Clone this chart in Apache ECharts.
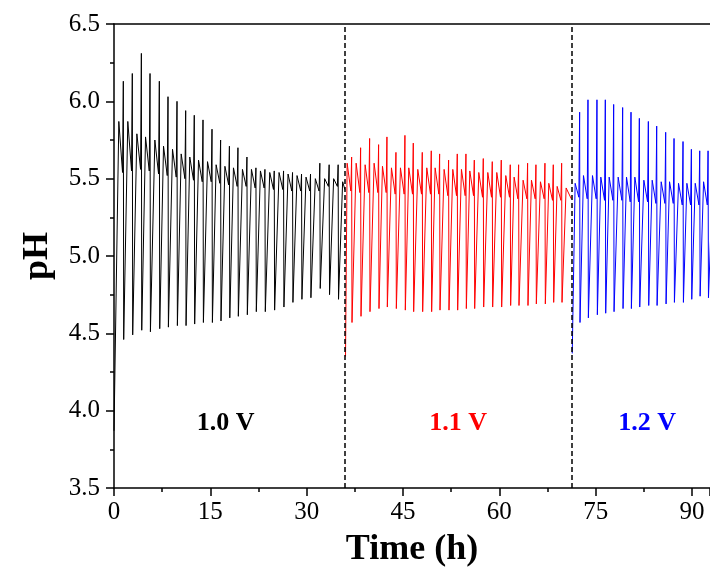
<!DOCTYPE html>
<html>
<head>
<meta charset="utf-8">
<script src="https://cdn.jsdelivr.net/npm/echarts@6/dist/echarts.min.js"></script>
<style>
  html, body { margin: 0; padding: 0; background: #fff; }
  #chart { width: 710px; height: 573px; }
</style>
</head>
<body>
<div id="chart"></div>
<script>
// pH oscillation record at three cell voltages.
// Each oscillation cycle: rise from the minimum to a hump, settle to a base,
// sharp spike, then fall back to the next minimum.

// ---- 1.0 V ----
const blkStart = [0, 3.87];
const blkSpikeT = [1.45, 2.85, 4.26, 5.61, 7.06, 8.41, 9.81, 11.16, 12.5, 13.86, 15.26, 16.6, 17.97, 19.3, 20.7, 22.1, 23.5, 24.95, 26.4, 27.8, 29.2, 30.6, 32.05, 33.5, 34.9];
const blkSpike = [6.13, 6.18, 6.31, 6.18, 6.13, 6.03, 6.00, 5.94, 5.91, 5.88, 5.82, 5.75, 5.71, 5.70, 5.64, 5.57, 5.56, 5.55, 5.55, 5.54, 5.53, 5.53, 5.60, 5.59, 5.59];
const blkHump = [5.87, 5.87, 5.79, 5.77, 5.75, 5.71, 5.69, 5.66, 5.64, 5.62, 5.61, 5.59, 5.58, 5.57, 5.56, 5.56, 5.55, 5.54, 5.54, 5.53, 5.52, 5.51, 5.50, 5.50, 5.50];
const blkBase = [5.54, 5.55, 5.56, 5.55, 5.53, 5.52, 5.51, 5.50, 5.49, 5.48, 5.48, 5.47, 5.46, 5.45, 5.45, 5.44, 5.44, 5.43, 5.43, 5.42, 5.42, 5.42, 5.42, 5.45, 5.45];
const blkMin = [4.46, 4.49, 4.52, 4.51, 4.53, 4.54, 4.55, 4.55, 4.56, 4.57, 4.57, 4.58, 4.60, 4.61, 4.62, 4.64, 4.64, 4.65, 4.67, 4.70, 4.72, 4.73, 4.79, 4.75, 4.72];
const blkEnd = [[35.6, 5.48], [35.95, 5.43]];

// ---- 1.1 V ----
const redStart = [36.05, 4.35];
const redSpikeT = [37.0, 38.4, 39.8, 41.2, 42.5, 43.9, 45.3, 46.6, 48.0, 49.4, 50.7, 52.1, 53.45, 54.8, 56.1, 57.5, 58.9, 60.3, 61.7, 63.0, 64.4, 65.7, 67.1, 68.4, 69.7];
const redSpike = [5.64, 5.70, 5.76, 5.72, 5.77, 5.67, 5.78, 5.73, 5.67, 5.68, 5.66, 5.62, 5.66, 5.66, 5.62, 5.63, 5.61, 5.62, 5.59, 5.59, 5.60, 5.59, 5.60, 5.59, 5.60];
const redHump = [5.60, 5.60, 5.59, 5.60, 5.58, 5.57, 5.57, 5.57, 5.56, 5.57, 5.57, 5.56, 5.56, 5.56, 5.55, 5.54, 5.54, 5.54, 5.52, 5.51, 5.49, 5.49, 5.48, 5.47, 5.45];
const redBase = [5.42, 5.41, 5.41, 5.41, 5.41, 5.40, 5.40, 5.40, 5.40, 5.40, 5.40, 5.39, 5.39, 5.39, 5.39, 5.38, 5.38, 5.38, 5.38, 5.37, 5.37, 5.37, 5.37, 5.36, 5.36];
const redMin = [4.57, 4.61, 4.64, 4.66, 4.67, 4.66, 4.65, 4.64, 4.64, 4.64, 4.65, 4.65, 4.65, 4.66, 4.66, 4.67, 4.67, 4.67, 4.68, 4.68, 4.68, 4.69, 4.69, 4.70, 4.70];
const redEnd = [[70.4, 5.44], [71.2, 5.37]];

// ---- 1.2 V ----
const bluStart = [71.35, 4.37];
const bluSpikeT = [72.5, 73.8, 75.2, 76.5, 77.8, 79.2, 80.5, 81.8, 83.2, 84.5, 85.9, 87.2, 88.6, 89.9, 91.2, 92.5];
const bluSpike = [5.93, 6.01, 6.01, 6.01, 5.98, 5.96, 5.93, 5.89, 5.87, 5.84, 5.80, 5.76, 5.74, 5.69, 5.68, 5.68];
const bluHump = [5.47, 5.52, 5.52, 5.51, 5.51, 5.51, 5.51, 5.51, 5.49, 5.49, 5.48, 5.48, 5.47, 5.47, 5.47, 5.48];
const bluBase = [5.38, 5.37, 5.37, 5.36, 5.36, 5.36, 5.35, 5.35, 5.35, 5.34, 5.34, 5.34, 5.33, 5.33, 5.33, 5.33];
const bluMin = [4.57, 4.60, 4.62, 4.63, 4.64, 4.66, 4.66, 4.67, 4.68, 4.68, 4.69, 4.70, 4.70, 4.72, 4.74, 4.73];
const bluEnd = [[93.2, 5.47], [93.8, 5.31]];

// Timing of the features inside a cycle, relative to the spike (h)
const humpLead = 0.7;
const baseLead = 0.12;
const minLag = 0.06;

// Voltage switch times (h) and segment labels
const switchTimes = [36, 71.3];
const voltLabels = ['1.0 V', '1.1 V', '1.2 V'];
const voltLabelT = [17.4, 53.6, 83.0];
const voltLabelPH = 3.92;

const xTicks = [0, 15, 30, 45, 60, 75, 90];
const xMax = 92.8;

function buildCycles(start, spikeT, hump, base, spike, min, end) {
  const pts = [start];
  for (let i = 0; i < spikeT.length; i++) {
    const t = spikeT[i];
    pts.push([t - humpLead, hump[i]]);
    pts.push([t - baseLead, base[i]]);
    pts.push([t, spike[i]]);
    pts.push([t + minLag, min[i]]);
  }
  return pts.concat(end);
}

const serif = 'Liberation Serif';
const colors = ['#000000', '#ff0000', '#0000ff'];

const chart = echarts.init(document.getElementById('chart'), null, { renderer: 'canvas' });

const lineSeries = (name, data, color) => ({
  name, type: 'line', data, showSymbol: false, symbol: 'none',
  lineStyle: { color, width: 1 }, animation: false, clip: true
});

chart.setOption({
  animation: false,
  backgroundColor: '#ffffff',
  grid: { left: 114, top: 24, right: 0, bottom: 83 },
  xAxis: [{
    type: 'value', min: 0, max: xMax, interval: 15,
    name: 'Time (h)', nameLocation: 'middle', nameGap: 44,
    nameTextStyle: { fontFamily: serif, fontWeight: 'bold', fontSize: 36, color: '#000' },
    axisLine: { onZero: false, lineStyle: { color: '#000', width: 1.5 } },
    axisTick: { inside: false, length: 8, lineStyle: { color: '#000', width: 1.5 } },
    minorTick: { show: true, splitNumber: 2, length: 4, lineStyle: { color: '#000', width: 1.5 } },
    axisLabel: {
      margin: 12, fontFamily: serif, fontSize: 25, color: '#000',
      showMaxLabel: false,
      formatter: v => (xTicks.indexOf(v) >= 0 ? String(v) : '')
    },
    splitLine: { show: false }
  }, {
    type: 'value', position: 'top', min: 0, max: xMax,
    axisLine: { onZero: false, lineStyle: { color: '#000', width: 1.5 } },
    axisTick: { show: false }, axisLabel: { show: false }, splitLine: { show: false }
  }],
  yAxis: {
    type: 'value', min: 3.5, max: 6.5, interval: 0.5,
    name: 'pH', nameLocation: 'middle', nameGap: 58, nameRotate: 90,
    nameTextStyle: { fontFamily: serif, fontWeight: 'bold', fontSize: 36, color: '#000' },
    axisLine: { show: true, onZero: false, lineStyle: { color: '#000', width: 1.5 } },
    axisTick: { inside: false, length: 8, lineStyle: { color: '#000', width: 1.5 } },
    minorTick: { show: true, splitNumber: 2, length: 4, lineStyle: { color: '#000', width: 1.5 } },
    axisLabel: {
      margin: 14, fontFamily: serif, fontSize: 25, color: '#000',
      formatter: v => v.toFixed(1)
    },
    splitLine: { show: false }
  },
  series: [
    Object.assign(lineSeries('1.0 V', buildCycles(blkStart, blkSpikeT, blkHump, blkBase, blkSpike, blkMin, blkEnd), colors[0]), {
      markLine: {
        silent: true, symbol: ['none', 'none'], label: { show: false },
        lineStyle: { color: '#000', width: 1.5, type: [5, 3] },
        data: switchTimes.map(t => ({ xAxis: t }))
      }
    }),
    lineSeries('1.1 V', buildCycles(redStart, redSpikeT, redHump, redBase, redSpike, redMin, redEnd), colors[1]),
    lineSeries('1.2 V', buildCycles(bluStart, bluSpikeT, bluHump, bluBase, bluSpike, bluMin, bluEnd), colors[2])
  ]
});

// Voltage labels placed at data coordinates
chart.setOption({
  graphic: voltLabels.map((txt, i) => {
    const p = chart.convertToPixel({ gridIndex: 0 }, [voltLabelT[i], voltLabelPH]);
    return {
      type: 'text', x: p[0], y: p[1],
      style: {
        text: txt, fill: colors[i], font: 'bold 26px "Liberation Serif"',
        textAlign: 'center', textVerticalAlign: 'middle'
      }
    };
  })
});
</script>
</body>
</html>
